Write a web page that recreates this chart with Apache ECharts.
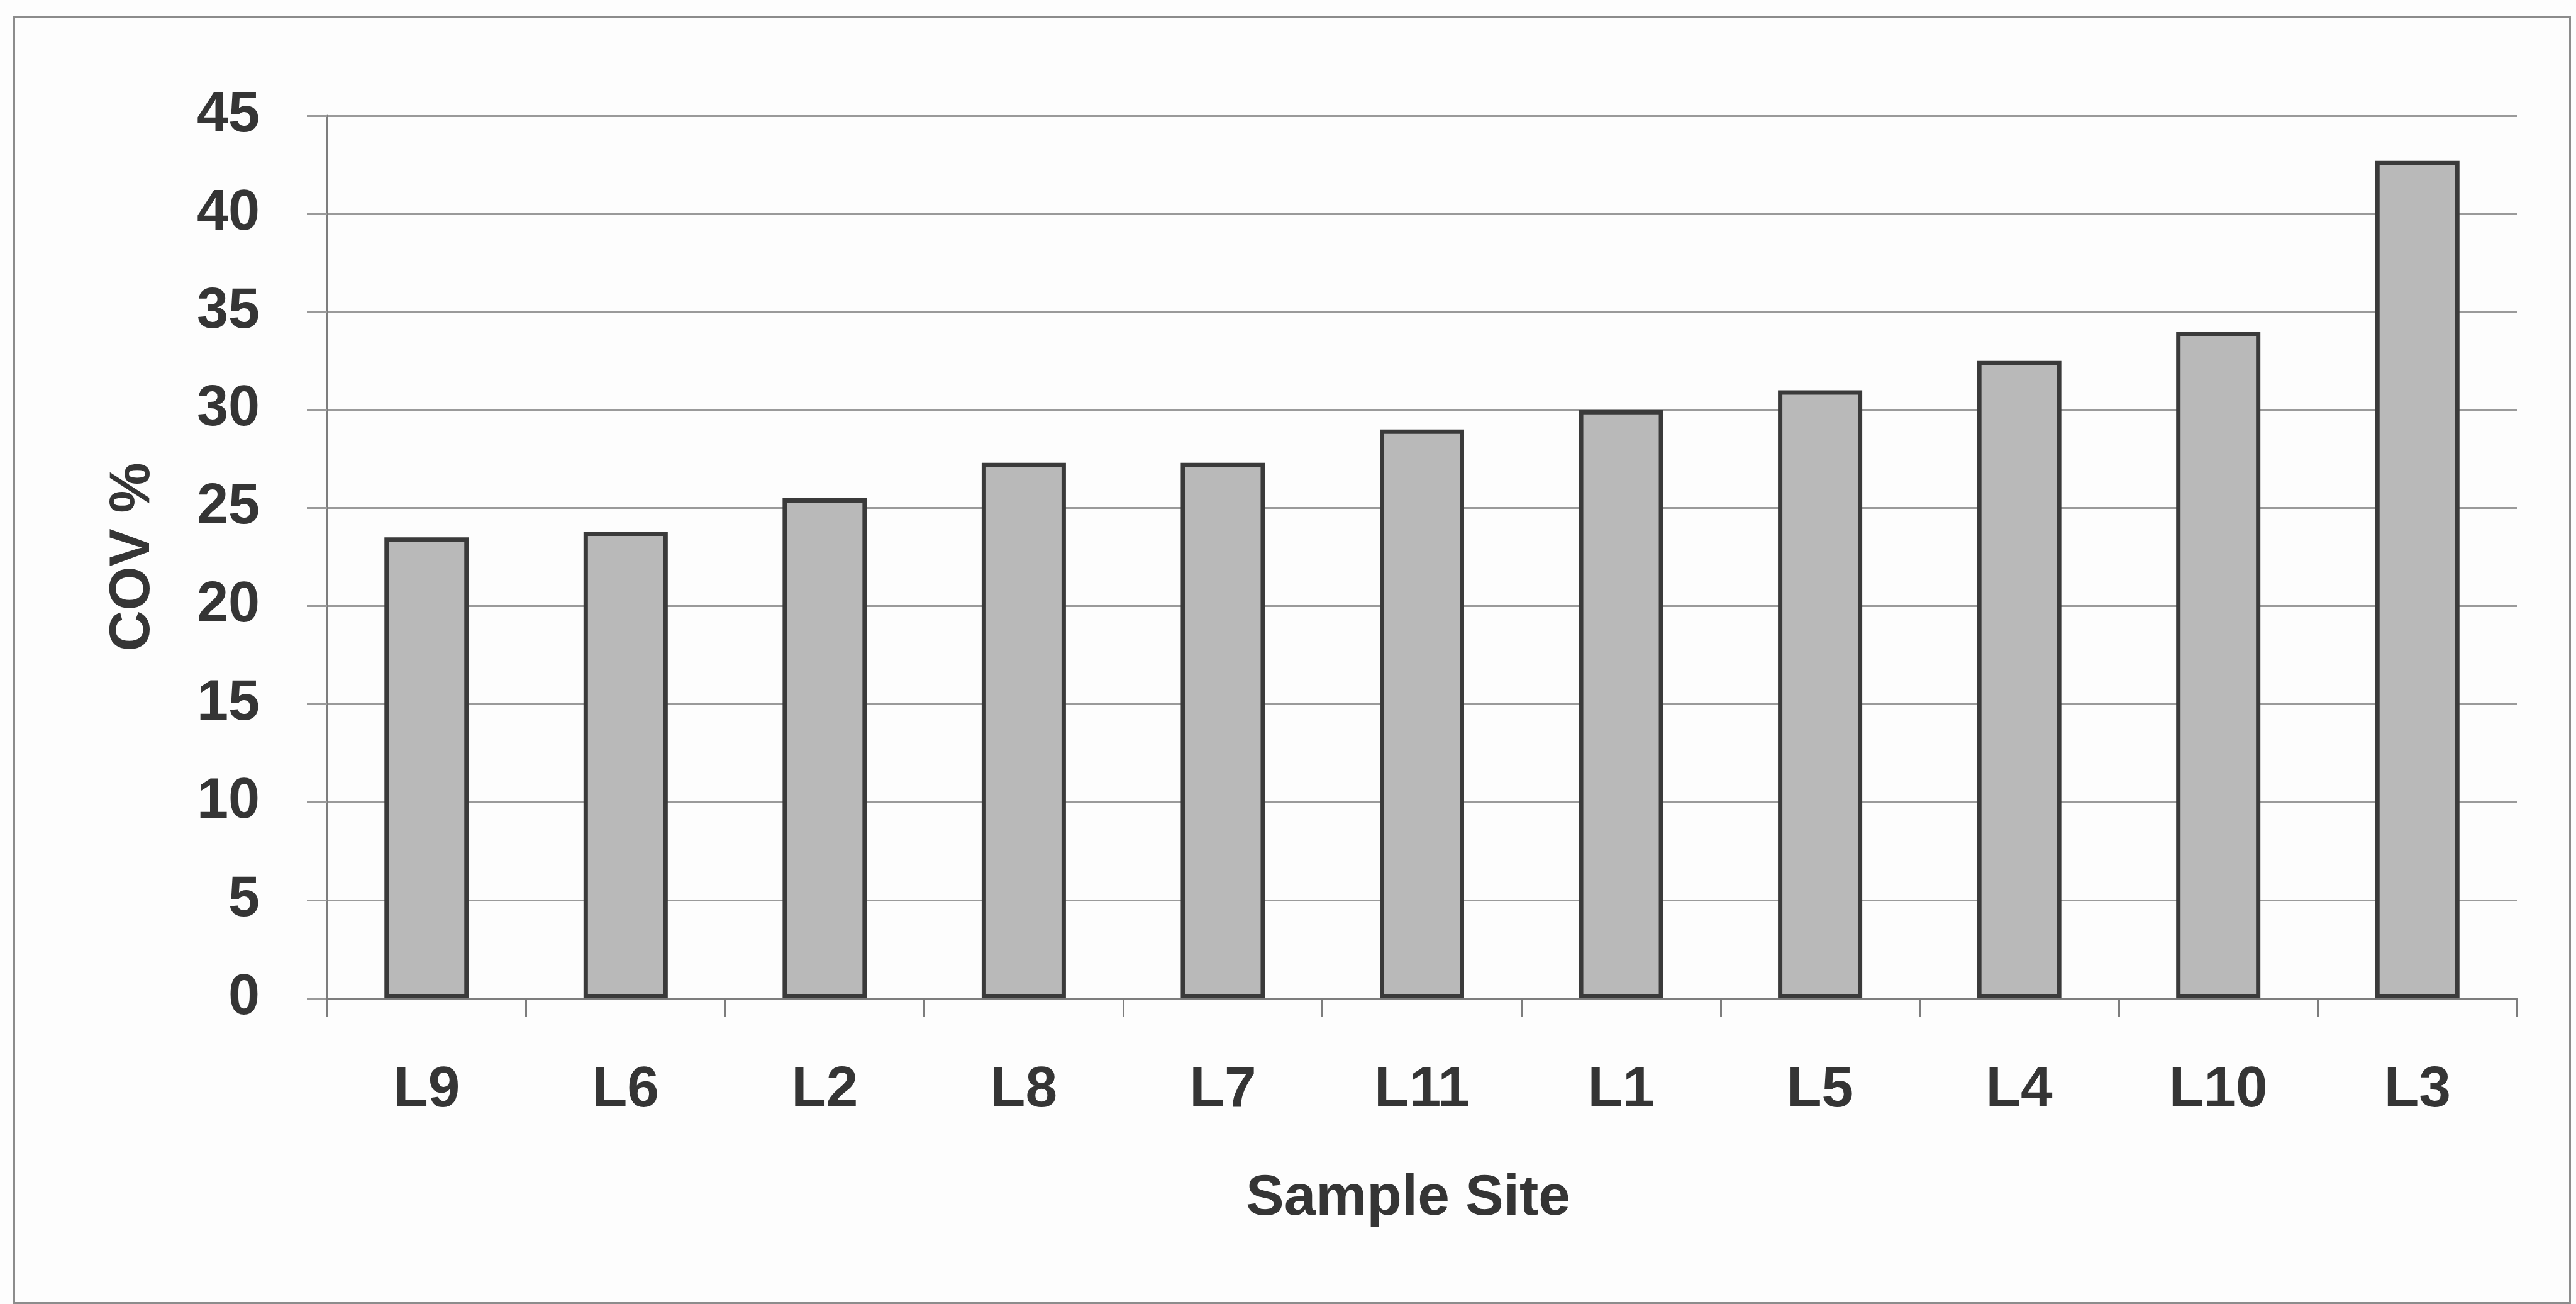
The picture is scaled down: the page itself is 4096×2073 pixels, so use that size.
<!DOCTYPE html>
<html>
<head>
<meta charset="utf-8">
<script src="https://cdn.jsdelivr.net/npm/echarts@6/dist/echarts.min.js"></script>
<style>
  html, body { margin: 0; padding: 0; background: #fdfdfd; }
  #chart { width: 4096px; height: 2073px; }
</style>
</head>
<body>
<div id="chart"></div>
<script>
// Sample sites, ordered by increasing coefficient of variation
const sites = ['L9', 'L6', 'L2', 'L8', 'L7', 'L11', 'L1', 'L5', 'L4', 'L10', 'L3'];
// COV (%) per site
const covPercent = [23.5, 23.8, 25.5, 27.3, 27.3, 29.0, 30.0, 31.0, 32.5, 34.0, 42.7];
// Value axis range and step
const yMin = 0;
const yMax = 45;
const yStep = 5;

const FONT = '"Liberation Sans", Arial, Helvetica, sans-serif';
const TEXT = '#353535';
const GRID_LINE = '#9a9a9a';
const AXIS_LINE = '#7d7d7d';

const chart = echarts.init(document.getElementById('chart'), null, { renderer: 'canvas' });

chart.setOption({
  backgroundColor: '#fdfdfd',
  animation: false,
  graphic: [{
    type: 'rect',
    left: 20,
    top: 24,
    shape: { width: 4064, height: 2045 },
    style: { fill: 'none', stroke: '#8c8c8c', lineWidth: 3 },
    silent: true,
    z: -1
  }],
  grid: {
    left: 520,
    right: 94,
    top: 184,
    bottom: 486,
    containLabel: false
  },
  xAxis: {
    type: 'category',
    data: sites,
    boundaryGap: true,
    name: 'Sample Site',
    nameLocation: 'middle',
    nameGap: 273,
    nameTextStyle: {
      fontFamily: FONT, fontSize: 91, fontWeight: 'bold', color: TEXT,
      padding: [0, 44, 0, 0]
    },
    axisLine: { show: true, lineStyle: { color: AXIS_LINE, width: 3 } },
    axisTick: { show: true, length: 30, lineStyle: { color: AXIS_LINE, width: 3 } },
    axisLabel: {
      fontFamily: FONT, fontSize: 91, fontWeight: 'bold', color: TEXT, margin: 101
    },
    splitLine: { show: false }
  },
  yAxis: {
    type: 'value',
    min: yMin,
    max: yMax,
    interval: yStep,
    name: 'COV %',
    nameLocation: 'middle',
    nameGap: 263,
    nameRotate: 90,
    nameTextStyle: { fontFamily: FONT, fontSize: 90, fontWeight: 'bold', color: TEXT },
    axisLine: { show: true, lineStyle: { color: AXIS_LINE, width: 3 } },
    axisTick: { show: true, length: 32, lineStyle: { color: GRID_LINE, width: 3 } },
    axisLabel: {
      fontFamily: FONT, fontSize: 90, fontWeight: 'bold', color: TEXT, margin: 107
    },
    splitLine: { show: true, lineStyle: { color: GRID_LINE, width: 3 } }
  },
  series: [{
    type: 'bar',
    data: covPercent,
    barWidth: 134,
    itemStyle: {
      color: '#b9b9b9',
      borderColor: '#3a3a3a',
      borderWidth: 7
    },
    emphasis: { disabled: true }
  }]
});
</script>
</body>
</html>
